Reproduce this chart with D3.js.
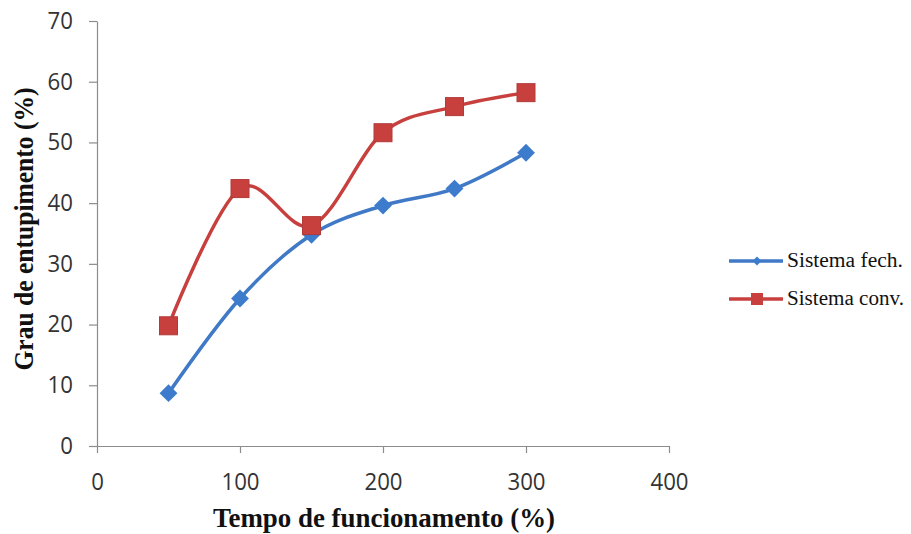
<!DOCTYPE html>
<html>
<head>
<meta charset="utf-8">
<script src="https://cdn.jsdelivr.net/npm/d3@7"></script>
<style>
  body { margin: 0; background: #fff; }
  svg { display: block; }
</style>
</head>
<body>
<svg id="chart" width="911" height="534"></svg>
<script>
const xValues = [50, 100, 150, 200, 250, 300];
const fechValues = [8.7, 24.3, 34.8, 39.6, 42.4, 48.3];
const convValues = [19.8, 42.4, 36.3, 51.6, 55.9, 58.2];
const seriesNames = ["Sistema fech.", "Sistema conv."];
const xTicks = [0, 100, 200, 300, 400];
const yTicks = [0, 10, 20, 30, 40, 50, 60, 70];
const xTitle = "Tempo de funcionamento (%)";
const yTitle = "Grau de entupimento (%)";

const blue = "#4079c6";
const red = "#c8403e";

const svg = d3.select("#chart");
const x = d3.scaleLinear().domain([0, 400]).range([97, 669]);
const y = d3.scaleLinear().domain([0, 70]).range([446, 21]);

const tickFont = "'Open Sans', 'DejaVu Sans', sans-serif";
const serif = "'Liberation Serif', 'Times New Roman', serif";

// X axis
const xAxis = svg.append("g").attr("transform", `translate(0,${y(0)})`)
  .call(d3.axisBottom(x).tickValues(xTicks).tickSize(7).tickPadding(21).tickSizeOuter(0));
xAxis.select(".domain").attr("stroke", "#8c8c8c").attr("stroke-width", 1.2);
xAxis.selectAll(".tick line").attr("stroke", "#8c8c8c").attr("stroke-width", 1.2);
xAxis.selectAll(".tick text").attr("font-family", tickFont).attr("font-size", 23).attr("fill", "#333")
  .attr("textLength", function() { return this.textContent.length * 12.7; })
  .attr("lengthAdjust", "spacingAndGlyphs");

// Y axis
const yAxis = svg.append("g").attr("transform", `translate(${x(0)},0)`)
  .call(d3.axisLeft(y).tickValues(yTicks).tickSize(8).tickPadding(16).tickSizeOuter(0));
yAxis.select(".domain").attr("stroke", "#8c8c8c").attr("stroke-width", 1.2);
yAxis.selectAll(".tick line").attr("stroke", "#8c8c8c").attr("stroke-width", 1.2);
yAxis.selectAll(".tick text").attr("font-family", tickFont).attr("font-size", 23).attr("fill", "#333")
  .attr("textLength", function() { return this.textContent.length * 12.7; })
  .attr("lengthAdjust", "spacingAndGlyphs");

// Titles
svg.append("text").attr("x", 384).attr("y", 527).attr("text-anchor", "middle")
  .attr("font-family", serif).attr("font-weight", "bold").attr("font-size", 27)
  .attr("textLength", 342).attr("lengthAdjust", "spacingAndGlyphs")
  .attr("fill", "#111").text(xTitle);
svg.append("text").attr("transform", "translate(33,229) rotate(-90)").attr("text-anchor", "middle")
  .attr("font-family", serif).attr("font-weight", "bold").attr("font-size", 27)
  .attr("textLength", 283).attr("lengthAdjust", "spacingAndGlyphs")
  .attr("fill", "#111").text(yTitle);

const line = d3.line().x(d => x(d[0])).y(d => y(d[1])).curve(d3.curveCatmullRom.alpha(0));

const fech = xValues.map((v, i) => [v, fechValues[i]]);
const conv = xValues.map((v, i) => [v, convValues[i]]);

svg.append("path").datum(fech).attr("d", line).attr("fill", "none")
  .attr("stroke", blue).attr("stroke-width", 3.5);
svg.append("path").datum(conv).attr("d", line).attr("fill", "none")
  .attr("stroke", red).attr("stroke-width", 3.5);

const diamond = d3.symbol().type(d3.symbolSquare).size(160);
svg.append("g").selectAll("path").data(fech).join("path")
  .attr("d", diamond)
  .attr("transform", d => `translate(${x(d[0])},${y(d[1])}) rotate(45)`)
  .attr("fill", "#3d7ccc");

svg.append("g").selectAll("rect").data(conv).join("rect")
  .attr("x", d => x(d[0]) - 9).attr("y", d => y(d[1]) - 9)
  .attr("width", 18).attr("height", 18)
  .attr("fill", red).attr("stroke", "#b23a38").attr("stroke-width", 1);

// Legend
const legend = svg.append("g");
const legY = [261, 299];
const legW = [116, 117];
[blue, red].forEach((c, i) => {
  legend.append("line").attr("x1", 729).attr("x2", 783).attr("y1", legY[i]).attr("y2", legY[i])
    .attr("stroke", c).attr("stroke-width", 3.5);
  if (i === 0) {
    legend.append("path").attr("d", d3.symbol().type(d3.symbolSquare).size(40))
      .attr("transform", `translate(757,${legY[i]}) rotate(45)`).attr("fill", "#3d7ccc");
  } else {
    legend.append("rect").attr("x", 751).attr("y", legY[i] - 6).attr("width", 12).attr("height", 12)
      .attr("fill", red);
  }
  legend.append("text").attr("x", 787).attr("y", legY[i] + 6)
    .attr("font-family", serif).attr("font-size", 20).attr("fill", "#111")
    .attr("textLength", legW[i]).attr("lengthAdjust", "spacingAndGlyphs")
    .text(seriesNames[i]);
});
</script>
</body>
</html>
